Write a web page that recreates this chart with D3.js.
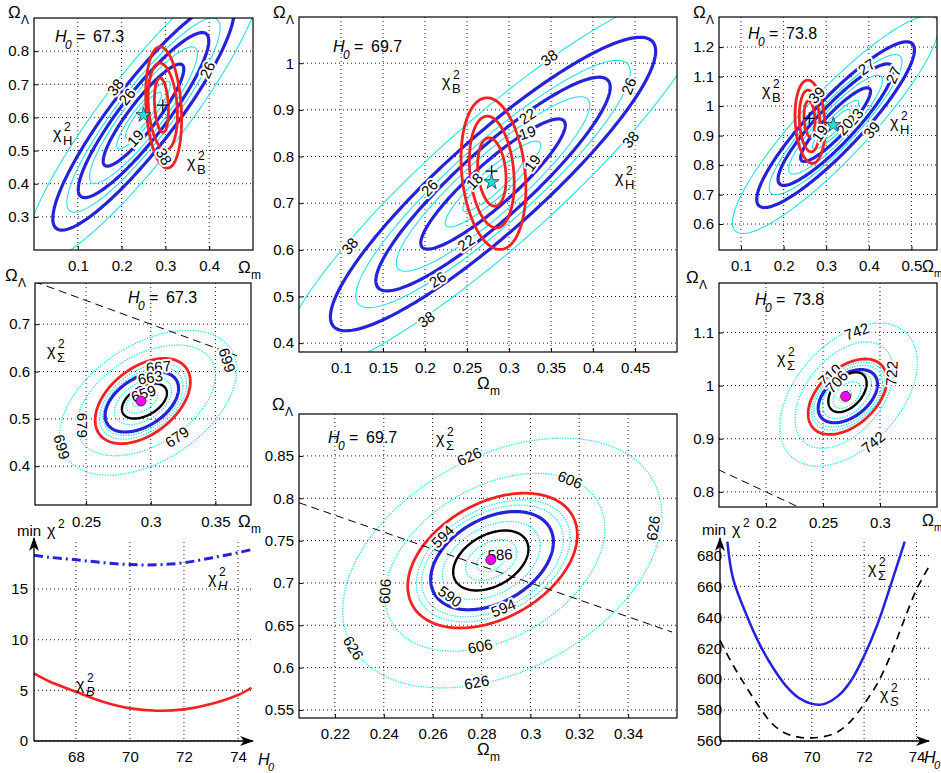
<!DOCTYPE html>
<html>
<head>
  <meta charset="utf-8">
  <title>chi2 contours</title>
  <script src="https://d3js.org/d3.v7.min.js"></script>
  <style>
    body { margin: 0; background: #fff; }
    text { font-family: "Liberation Sans", Arial, sans-serif; fill: #000; }
  </style>
</head>
<body>
<script>
  // ---------- data ----------
  // ellipse rows: [Om centre, OL centre, half range in Om, half range in OL, correlation, kind]
  const tlEll = [
    [0.250, 0.607, 0.041, 0.069, 0.9, "cyan"],
    [0.250, 0.607, 0.061, 0.102, 0.9, "cyan"],
    [0.250, 0.607, 0.123, 0.206, 0.9, "cyan"],
    [0.250, 0.607, 0.175, 0.293, 0.9, "cyan"],
    [0.250, 0.607, 0.271, 0.454, 0.9, "cyan"],
    [0.250, 0.607, 0.092, 0.154, 0.9, "blue"],
    [0.250, 0.607, 0.149, 0.249, 0.9, "blue"],
    [0.250, 0.607, 0.207, 0.347, 0.9, "blue"],
    [0.291, 0.637, 0.016, 0.082, -0.2, "red"],
    [0.294, 0.633, 0.0335, 0.131, -0.2, "red"],
    [0.296, 0.630, 0.041, 0.183, -0.2, "red"]
  ];
  // contour labels: [ellipse index, Om, OL, text]
  const tlLab = [[7, 0.186, 0.691, "38"], [6, 0.2126, 0.6625, "26"], [6, 0.396, 0.743, "26"],
                 [5, 0.2317, 0.537, "19"], [10, 0.2966, 0.4815, "38"]];
  const tlPlus = [0.294, 0.637], tlStar = [0.250, 0.607];

  const tmEll = [
    [0.281, 0.741, 0.036, 0.0586, 0.905, "cyan"],
    [0.281, 0.741, 0.0568, 0.092, 0.905, "cyan"],
    [0.281, 0.741, 0.1152, 0.187, 0.905, "cyan"],
    [0.281, 0.741, 0.1634, 0.265, 0.905, "cyan"],
    [0.281, 0.741, 0.2537, 0.4115, 0.905, "cyan"],
    [0.281, 0.741, 0.086, 0.1395, 0.905, "blue"],
    [0.281, 0.741, 0.1395, 0.229, 0.905, "blue"],
    [0.281, 0.741, 0.1936, 0.3145, 0.905, "blue"],
    [0.2796, 0.7668, 0.0169, 0.0733, -0.2, "red"],
    [0.2795, 0.7668, 0.0267, 0.1196, -0.2, "red"],
    [0.2815, 0.7633, 0.0386, 0.1625, -0.2, "red"]
  ];
  const tmLab = [[4, 0.3478, 1.0115, "38"], [4, 0.4447, 0.8364, "38"], [4, 0.1105, 0.608, "38"],
                 [4, 0.2015, 0.451, "38"], [3, 0.4427, 0.9507, "26"], [3, 0.2054, 0.733, "26"],
                 [3, 0.2152, 0.5364, "26"], [2, 0.322, 0.8864, "22"], [2, 0.249, 0.615, "22"],
                 [1, 0.322, 0.8507, "19"], [1, 0.328, 0.7865, "19"], [0, 0.259, 0.747, "18"]];
  const tmPlus = [0.2793, 0.7686], tmStar = [0.2793, 0.745];

  const trEll = [
    [0.322, 0.937, 0.0344, 0.0525, 0.9, "cyan"],
    [0.322, 0.937, 0.0541, 0.0825, 0.9, "cyan"],
    [0.322, 0.937, 0.110, 0.1675, 0.9, "cyan"],
    [0.322, 0.937, 0.1558, 0.2375, 0.9, "cyan"],
    [0.322, 0.937, 0.242, 0.369, 0.9, "cyan"],
    [0.322, 0.937, 0.082, 0.125, 0.9, "blue"],
    [0.322, 0.937, 0.135, 0.206, 0.9, "blue"],
    [0.322, 0.937, 0.185, 0.281, 0.9, "blue"],
    [0.2608, 0.957, 0.0129, 0.061, -0.15, "red"],
    [0.261, 0.9495, 0.0242, 0.1045, -0.15, "red"],
    [0.262, 0.947, 0.0352, 0.141, -0.15, "red"]
  ];
  const trLab = [[4, 0.4068, 0.9186, "39"], [4, 0.2777, 1.0373, "39"], [3, 0.395, 1.133, "27"],
                 [3, 0.4577, 1.105, "27"], [2, 0.3676, 0.9637, "23"], [0, 0.344, 0.93, "20"],
                 [1, 0.2855, 0.9075, "19"]];
  const trPlus = [0.2603, 0.9583], trStar = [0.3167, 0.9356];

  const mlEll = [
    [0.2920, 0.5390, 0.0060, 0.0130, 0.45, "dot"],
    [0.2930, 0.5380, 0.0120, 0.0260, 0.45, "dot"],
    [0.2940, 0.5370, 0.0220, 0.0490, 0.45, "dot"],
    [0.2940, 0.5370, 0.0310, 0.0720, 0.45, "dot"],
    [0.2940, 0.5370, 0.0335, 0.0800, 0.45, "dot"],
    [0.2965, 0.5390, 0.0535, 0.1170, 0.45, "dot"],
    [0.2980, 0.5340, 0.0684, 0.1530, 0.45, "dot"],
    [0.2951, 0.5376, 0.0174, 0.0370, 0.45, "black"],
    [0.2931, 0.5357, 0.0284, 0.0635, 0.45, "blue"],
    [0.2938, 0.5377, 0.0368, 0.0900, 0.45, "red"]
  ];
  const mlLab = [[4, 0.306, 0.6097, "667"], [2, 0.2996, 0.5873, "663"], [1, 0.2944, 0.5535, "659"],
                 [5, 0.2467, 0.4865, "679"], [5, 0.3203, 0.4617, "679"], [6, 0.2312, 0.4406, "699"],
                 [6, 0.359, 0.624, "699"]];
  const mlBest = [0.2924, 0.5378], mlFlat = [0.21, 0.369];

  const mrEll = [
    [0.2699, 0.9797, 0.0050, 0.0110, 0.45, "dot"],
    [0.2710, 0.9820, 0.0120, 0.0250, 0.45, "dot"],
    [0.2710, 0.9820, 0.0215, 0.0440, 0.45, "dot"],
    [0.2720, 0.9800, 0.0300, 0.0580, 0.45, "dot"],
    [0.2720, 0.9800, 0.0320, 0.0640, 0.45, "dot"],
    [0.2686, 0.9820, 0.0430, 0.1000, 0.45, "dot"],
    [0.2725, 0.9830, 0.0602, 0.1345, 0.45, "dot"],
    [0.2715, 0.9875, 0.0168, 0.0375, 0.45, "black"],
    [0.2718, 0.9800, 0.0260, 0.0500, 0.45, "blue"],
    [0.2715, 0.9790, 0.0345, 0.0710, 0.45, "red"]
  ];
  const mrLab = [[6, 0.2796, 1.1019, "742"], [6, 0.2942, 0.8932, "742"], [5, 0.3103, 1.0228, "722"],
                 [2, 0.2561, 1.0195, "710"], [7, 0.262, 1.007, "706"]];
  const mrBest = [0.2699, 0.9797], mrFlat = [0.158, 0.23];

  const bmEll = [
    [0.2840, 0.7270, 0.0060, 0.0140, 0.38, "dot"],
    [0.2840, 0.7270, 0.0105, 0.0240, 0.38, "dot"],
    [0.2840, 0.7265, 0.0200, 0.0460, 0.38, "dot"],
    [0.2845, 0.7260, 0.0290, 0.0660, 0.38, "dot"],
    [0.2848, 0.7260, 0.0315, 0.0720, 0.38, "dot"],
    [0.2855, 0.7244, 0.0450, 0.1050, 0.38, "dot"],
    [0.2885, 0.7235, 0.0653, 0.1475, 0.38, "dot"],
    [0.2838, 0.7265, 0.0154, 0.0354, 0.38, "black"],
    [0.2843, 0.7263, 0.0251, 0.0580, 0.38, "blue"],
    [0.2845, 0.7264, 0.0347, 0.0796, 0.38, "red"]
  ];
  const bmLab = [[6, 0.275, 0.8492, "626"], [5, 0.3162, 0.8217, "606"], [6, 0.3503, 0.7647, "626"],
                 [3, 0.2641, 0.7548, "594"], [1, 0.2876, 0.7333, "586"], [2, 0.2671, 0.684, "590"],
                 [3, 0.2889, 0.6704, "594"], [5, 0.2405, 0.69, "606"], [5, 0.2794, 0.6251, "606"],
                 [6, 0.2275, 0.6232, "626"], [6, 0.278, 0.5827, "626"]];
  const bmBest = [0.2838, 0.7274], bmFlat = [0.2053, 0.358];

  // min chi^2 against H0
  const blH0 = [66.45, 67, 68, 69, 70, 71, 72, 73, 74, 74.5];
  const blChiH = [18.34, 18.15, 17.9, 17.62, 17.42, 17.4, 17.6, 18.08, 18.6, 18.9];
  const blChiB = [6.67, 5.9, 4.86, 3.88, 3.22, 2.99, 3.12, 3.65, 4.54, 5.26];
  const brH0Sum = [66.78, 67, 67.5, 68, 68.5, 69, 69.5, 70, 70.3, 70.5, 71, 71.5, 72, 72.5, 73, 73.55];
  const brChiSum = [689, 665, 642, 623, 608, 596, 588, 584, 583.5, 584, 589, 599, 615, 635, 660, 689];
  const brH0S = [66.5, 67, 67.5, 68, 68.5, 69, 69.5, 70, 70.5, 71, 71.5, 72, 72.5, 73, 73.5, 74, 74.45];
  const brChiS = [625, 609, 595, 582, 571, 565, 562.5, 562, 563, 566, 573, 584, 597, 615, 637, 658, 672];

  // ticks
  const tlXT = [0.1, 0.2, 0.3, 0.4], tlYT = [0.3, 0.4, 0.5, 0.6, 0.7, 0.8];
  const tmXT = [0.1, 0.15, 0.2, 0.25, 0.3, 0.35, 0.4, 0.45], tmYT = [0.4, 0.5, 0.6, 0.7, 0.8, 0.9, 1];
  const trXT = [0.1, 0.2, 0.3, 0.4, 0.5], trYT = [0.6, 0.7, 0.8, 0.9, 1, 1.1, 1.2];
  const mlXT = [0.25, 0.3, 0.35], mlYT = [0.4, 0.5, 0.6, 0.7];
  const mrXT = [0.2, 0.25, 0.3], mrYT = [0.8, 0.9, 1, 1.1];
  const bmXT = [0.22, 0.24, 0.26, 0.28, 0.3, 0.32, 0.34], bmYT = [0.55, 0.6, 0.65, 0.7, 0.75, 0.8, 0.85];
  const blXT = [68, 70, 72, 74], blYT = [0, 5, 10, 15];
  const brXT = [68, 70, 72, 74], brYT = [560, 580, 600, 620, 640, 660, 680];

  // ---------- drawing ----------
  const serif = "Liberation Serif, Times New Roman, serif";
  const greek = "DejaVu Sans, sans-serif";
  const KIND = {
    cyan:  { stroke: "#1fe3ea", width: 1.1 },
    dot:   { stroke: "#1fe3ea", width: 1.3, dash: "1.3,1.3" },
    blue:  { stroke: "#2323dc", width: 3.2 },
    black: { stroke: "#000", width: 2.4 },
    red:   { stroke: "#f22222", width: 2.8 }
  };
  const ORDER = ["cyan", "dot", "blue", "black", "red"];
  const fmt = d => String(+d.toFixed(3));

  const svg = d3.select("body").append("svg").attr("width", 941).attr("height", 773);
  svg.append("defs").append("marker")
    .attr("id", "arrow").attr("viewBox", "0 -6 14 12").attr("refX", 13).attr("refY", 0)
    .attr("markerWidth", 14).attr("markerHeight", 12).attr("markerUnits", "userSpaceOnUse")
    .attr("orient", "auto")
    .append("path").attr("d", "M0,-5L14,0L0,5L4,0Z").attr("fill", "#000");

  function ellipsePts(e, x, y) {
    const [cx, cy, a, b, r] = e, q = Math.sqrt(1 - r * r);
    return d3.range(240).map(i => {
      const t = i / 240 * 2 * Math.PI;
      return [x(cx + a * Math.cos(t)), y(cy + b * (r * Math.cos(t) + q * Math.sin(t)))];
    });
  }

  // rotate a label along the curve it sits on
  function labelAngle(pts, px, py) {
    let best = 0, bd = Infinity;
    pts.forEach((q, i) => {
      const d = (q[0] - px) ** 2 + (q[1] - py) ** 2;
      if (d < bd) { bd = d; best = i; }
    });
    const n = pts.length, a = pts[(best - 1 + n) % n], b = pts[(best + 1) % n];
    let ang = Math.atan2(b[1] - a[1], b[0] - a[0]) * 180 / Math.PI;
    if (ang > 90) ang -= 180;
    if (ang < -90) ang += 180;
    return ang;
  }

  function tidy(sel) {
    sel.attr("font-size", 15).attr("font-family", "Liberation Sans, Arial, sans-serif");
    sel.select(".domain").remove();
    sel.selectAll(".tick line").attr("stroke", "#000");
  }

  function grid(g, x, y, xt, yt, box) {
    const [x0, y0, x1, y1] = box;
    const gg = g.append("g").attr("stroke", "#000").attr("stroke-width", 0.9).attr("stroke-dasharray", "1,3");
    gg.selectAll("line.v").data(xt).join("line").attr("class", "v")
      .attr("x1", d => x(d)).attr("x2", d => x(d)).attr("y1", y0).attr("y2", y1);
    gg.selectAll("line.h").data(yt).join("line").attr("class", "h")
      .attr("x1", x0).attr("x2", x1).attr("y1", d => y(d)).attr("y2", d => y(d));
  }

  let clipN = 0;
  function contourPanel(p) {
    const [x0, y0, x1, y1] = p.box;
    const x = d3.scaleLinear().domain(p.xd).range([x0, x1]);
    const y = d3.scaleLinear().domain(p.yd).range([y1, y0]);
    const g = svg.append("g");
    const id = "clip" + clipN++;
    g.append("clipPath").attr("id", id).append("rect")
      .attr("x", x0).attr("y", y0).attr("width", x1 - x0).attr("height", y1 - y0);

    grid(g, x, y, p.xt, p.yt, p.box);
    g.append("g").attr("transform", `translate(0,${y1})`)
      .call(d3.axisBottom(x).tickValues(p.xt).tickFormat(fmt).tickSizeInner(-4).tickSizeOuter(0).tickPadding(p.xpad || 10))
      .call(tidy);
    g.append("g").attr("transform", `translate(${x0},0)`)
      .call(d3.axisLeft(y).tickValues(p.yt).tickFormat(fmt).tickSizeInner(-4).tickSizeOuter(0).tickPadding(5))
      .call(tidy);

    const cg = g.append("g").attr("clip-path", `url(#${id})`);
    const pts = p.ell.map(e => ellipsePts(e, x, y));
    const closed = d3.line().curve(d3.curveLinearClosed);
    const drawList = ORDER.flatMap(k => p.ell.map((e, i) => i).filter(i => p.ell[i][5] === k));
    cg.selectAll("path.ell").data(drawList).join("path").attr("class", "ell")
      .attr("d", i => closed(pts[i]))
      .attr("fill", "none")
      .attr("stroke", i => KIND[p.ell[i][5]].stroke)
      .attr("stroke-width", i => KIND[p.ell[i][5]].width)
      .attr("stroke-dasharray", i => KIND[p.ell[i][5]].dash || null);

    if (p.flat) {
      cg.append("path")
        .attr("d", d3.line().x(d => x(d)).y(d => y(1 - d))(p.flat))
        .attr("fill", "none").attr("stroke", "#000").attr("stroke-width", 1)
        .attr("stroke-dasharray", "8,5");
    }

    g.append("g").selectAll("text").data(p.lab).join("text")
      .attr("transform", d => {
        const px = x(d[1]), py = y(d[2]);
        return `translate(${px},${py}) rotate(${labelAngle(pts[d[0]], px, py)})`;
      })
      .attr("text-anchor", "middle").attr("dy", "0.35em").attr("font-size", 15)
      .attr("stroke", "#fff").attr("stroke-width", 4).attr("stroke-linejoin", "round")
      .attr("paint-order", "stroke")
      .text(d => d[3]);

    if (p.plus) {
      g.append("path").attr("d", "M-6,0H6M0,-6V6")
        .attr("transform", `translate(${x(p.plus[0])},${y(p.plus[1])})`)
        .attr("stroke", "#000").attr("stroke-width", 1.1);
    }
    if (p.star) {
      g.append("path").attr("d", d3.symbol(d3.symbolStar, 70)())
        .attr("transform", `translate(${x(p.star[0])},${y(p.star[1])})`)
        .attr("fill", "#22e0e0").attr("stroke", "#203040").attr("stroke-width", 0.8);
    }
    if (p.best) {
      g.append("circle").attr("cx", x(p.best[0])).attr("cy", y(p.best[1])).attr("r", 5)
        .attr("fill", "#ff00ff").attr("stroke", "#222").attr("stroke-width", 0.8);
    }

    g.append("rect").attr("x", x0).attr("y", y0).attr("width", x1 - x0).attr("height", y1 - y0)
      .attr("fill", "none").attr("stroke", "#000").attr("stroke-width", 1.2);
    return g;
  }

  function curvePanel(p) {
    const [x0, y0, x1, y1] = p.box;
    const x = d3.scaleLinear().domain(p.xd).range([x0, x1]);
    const y = d3.scaleLinear().domain(p.yd).range([y1, y0]);
    const g = svg.append("g");
    grid(g, x, y, p.xt, p.yt, [x0, y0 + 2, x1, y1]);
    g.append("g").attr("transform", `translate(0,${y1})`)
      .call(d3.axisBottom(x).tickValues(p.xt).tickFormat(fmt).tickSize(0).tickPadding(10))
      .call(tidy);
    g.append("g").attr("transform", `translate(${x0},0)`)
      .call(d3.axisLeft(y).tickValues(p.yt).tickFormat(fmt).tickSize(0).tickPadding(p.ypad))
      .call(tidy);
    p.series.forEach(s => {
      g.append("path")
        .datum(s.h.map((v, i) => [v, s.v[i]]))
        .attr("d", d3.line().x(d => x(d[0])).y(d => y(d[1])).curve(d3.curveCatmullRom.alpha(0.5)))
        .attr("fill", "none").attr("stroke", s.color).attr("stroke-width", s.width)
        .attr("stroke-dasharray", s.dash || null);
    });
    g.append("line").attr("x1", x0).attr("y1", y1).attr("x2", x0).attr("y2", y0 - 2)
      .attr("stroke", "#000").attr("stroke-width", 1.3).attr("marker-end", "url(#arrow)");
    g.append("line").attr("x1", x0).attr("y1", y1).attr("x2", p.xEnd).attr("y2", y1)
      .attr("stroke", "#000").attr("stroke-width", 1.3).attr("marker-end", "url(#arrow)");
    return g;
  }

  // ---------- text helpers ----------
  function omega(x, y, sub) {
    svg.append("text").attr("x", x).attr("y", y).attr("font-family", serif).attr("font-size", 17).text("Ω");
    svg.append("text").attr("x", x + 13).attr("y", y + 6).attr("font-family", serif).attr("font-size", 12).text(sub);
  }
  function chi(x, y, sub, italic) {
    svg.append("text").attr("x", x).attr("y", y).attr("font-family", greek)
      .attr("font-size", 16).text("χ");
    svg.append("text").attr("x", x + 11).attr("y", y - 8).attr("font-size", 12).text("2");
    svg.append("text").attr("x", x + 10).attr("y", y + 6)
      .attr("font-family", sub === "Σ" ? serif : null)
      .attr("font-style", italic ? "italic" : null).attr("font-size", 13).text(sub);
  }
  function h0(x, y, val) {
    svg.append("text").attr("x", x).attr("y", y).attr("font-size", 16).attr("font-style", "italic").text("H");
    svg.append("text").attr("x", x + 10).attr("y", y + 7).attr("font-size", 12).attr("font-style", "italic").text("0");
    svg.append("text").attr("x", x + 21).attr("y", y).attr("font-size", 16).text("=");
    svg.append("text").attr("x", x + 38).attr("y", y).attr("font-size", 16).text(val);
  }
  function minChi(x, y) {
    svg.append("text").attr("x", x).attr("y", y).attr("font-size", 15).text("min");
    svg.append("text").attr("x", x + 30).attr("y", y).attr("font-family", greek)
      .attr("font-size", 16).text("χ");
    svg.append("text").attr("x", x + 41).attr("y", y - 8).attr("font-size", 12).text("2");
  }
  function hAxis(x, y) {
    svg.append("text").attr("x", x).attr("y", y).attr("font-size", 16).attr("font-style", "italic").text("H");
    svg.append("text").attr("x", x + 10).attr("y", y + 6).attr("font-size", 11).attr("font-style", "italic").text("0");
  }
  function omegaM(x, y) {
    svg.append("text").attr("x", x).attr("y", y).attr("font-family", serif).attr("font-size", 16).text("Ω");
    svg.append("text").attr("x", x + 12).attr("y", y + 5).attr("font-family", serif).attr("font-size", 10).text("m");
  }

  // ---------- panels ----------
  contourPanel({ box: [34, 18, 253, 250], xd: [0, 0.5], yd: [0.2, 0.9], xt: tlXT, yt: tlYT,
                 ell: tlEll, lab: tlLab, plus: tlPlus, star: tlStar });
  contourPanel({ box: [299, 17, 677, 352], xd: [0.05, 0.5], yd: [0.381, 1.099], xt: tmXT, yt: tmYT,
                 ell: tmEll, lab: tmLab, plus: tmPlus, star: tmStar });
  contourPanel({ box: [719, 17, 937, 250], xd: [0.0484, 0.56], yd: [0.512, 1.302], xt: trXT, yt: trYT,
                 ell: trEll, lab: trLab, plus: trPlus, star: trStar });
  contourPanel({ box: [35, 283, 251, 505], xd: [0.2105, 0.3775], yd: [0.318, 0.787], xt: mlXT, yt: mlYT,
                 ell: mlEll, lab: mlLab, best: mlBest, flat: mlFlat, xpad: 11 });
  contourPanel({ box: [719, 283, 937, 507], xd: [0.1588, 0.35], yd: [0.7715, 1.193], xt: mrXT, yt: mrYT,
                 ell: mrEll, lab: mrLab, best: mrBest, flat: mrFlat });
  contourPanel({ box: [299, 414, 677, 718], xd: [0.2053, 0.36], yd: [0.5405, 0.8995], xt: bmXT, yt: bmYT,
                 ell: bmEll, lab: bmLab, best: bmBest, flat: bmFlat });

  curvePanel({ box: [34, 540, 251.5, 741], xd: [66.45, 74.5], yd: [0, 19.85], xt: blXT, yt: blYT,
               ypad: 6, xEnd: 253,
               series: [
                 { h: blH0, v: blChiH, color: "#2323dc", width: 3, dash: "9,4,2,4" },
                 { h: blH0, v: blChiB, color: "#f22222", width: 2.6 }
               ] });
  curvePanel({ box: [720, 540, 929.6, 741], xd: [66.5, 74.5], yd: [560, 690], xt: brXT, yt: brYT,
               ypad: -2, xEnd: 929,
               series: [
                 { h: brH0Sum, v: brChiSum, color: "#2323dc", width: 2.5 },
                 { h: brH0S, v: brChiS, color: "#000", width: 1.7, dash: "8,6" }
               ] });

  // ---------- axis titles and annotations ----------
  omega(8, 18, "Λ"); omega(273, 18, "Λ"); omega(693, 18, "Λ");
  omega(5, 281, "Λ"); omega(686, 283, "Λ"); omega(272, 410, "Λ");
  omega(238, 273, "m"); omega(238, 527, "m");
  omegaM(922, 272); omegaM(922, 526);
  omega(477, 389, "m"); omega(477, 755, "m");
  hAxis(258, 765); hAxis(924, 763);
  minChi(17, 536); minChi(702, 535);

  h0(55, 42, "67.3"); h0(333, 52, "69.7"); h0(748, 39, "73.8");
  h0(128, 303, "67.3"); h0(755, 305, "73.8"); h0(328, 443, "69.7");

  chi(53, 139, "H"); chi(187, 168, "B");
  chi(442, 87, "B"); chi(615, 183, "H");
  chi(762, 96, "B"); chi(890, 128, "H");
  chi(47, 356, "Σ"); chi(777, 364, "Σ"); chi(436, 444, "Σ");
  chi(208, 584, "H", true); chi(76, 690, "B", true);
  chi(868, 574, "Σ"); chi(880, 700, "S", true);
</script>
</body>
</html>
